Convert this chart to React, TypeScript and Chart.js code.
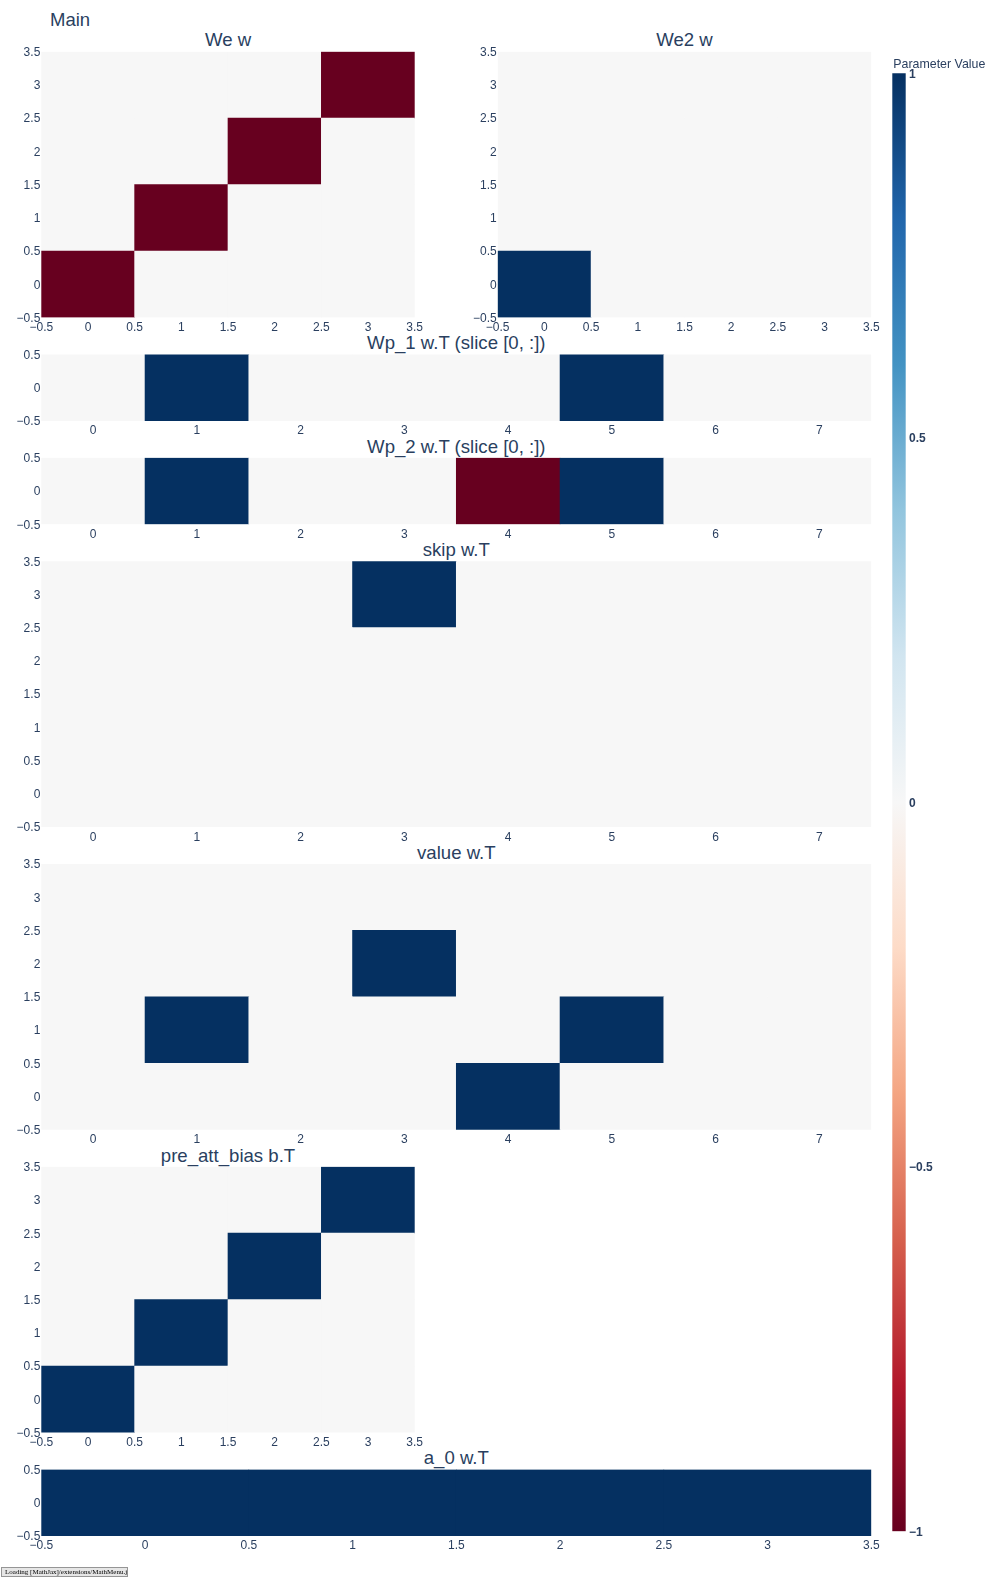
import React, { useEffect, useRef } from "react";
import { Chart, registerables } from "chart.js";
Chart.register(...registerables);

// ---------- colour scale (Plotly RdBu, zmin -1 .. zmax 1) ----------
const ZMIN = -1;
const ZMAX = 1;
const RDBU: number[][] = [
  [103, 0, 31], [178, 24, 43], [214, 96, 77], [244, 165, 130], [253, 219, 199],
  [247, 247, 247], [209, 229, 240], [146, 197, 222], [67, 147, 195], [33, 102, 172], [5, 48, 97],
];

// ---------- data (rows listed from y = 0 upward) ----------
const WE_W = [
  [-1, 0, 0, 0],
  [0, -1, 0, 0],
  [0, 0, -1, 0],
  [0, 0, 0, -1],
];
const WE2_W = [
  [1, 0, 0, 0],
  [0, 0, 0, 0],
  [0, 0, 0, 0],
  [0, 0, 0, 0],
];
const WP1_WT = [[0, 1, 0, 0, 0, 1, 0, 0]];
const WP2_WT = [[0, 1, 0, 0, -1, 1, 0, 0]];
const SKIP_WT = [
  [0, 0, 0, 0, 0, 0, 0, 0],
  [0, 0, 0, 0, 0, 0, 0, 0],
  [0, 0, 0, 0, 0, 0, 0, 0],
  [0, 0, 0, 1, 0, 0, 0, 0],
];
const VALUE_WT = [
  [0, 0, 0, 0, 1, 0, 0, 0],
  [0, 1, 0, 0, 0, 1, 0, 0],
  [0, 0, 0, 1, 0, 0, 0, 0],
  [0, 0, 0, 0, 0, 0, 0, 0],
];
const PRE_ATT_BIAS_BT = [
  [1, 0, 0, 0],
  [0, 1, 0, 0],
  [0, 0, 1, 0],
  [0, 0, 0, 1],
];
const A0_WT = [[1, 1, 1, 1]];

// ---------- tick values ----------
const TICKS_HALF = [-0.5, 0, 0.5, 1, 1.5, 2, 2.5, 3, 3.5];
const TICKS_INT8 = [0, 1, 2, 3, 4, 5, 6, 7];
const TICKS_ROW1 = [-0.5, 0, 0.5];
const CBAR_TICKS = [-1, -0.5, 0, 0.5, 1];

const FONT = '"Liberation Sans", Arial, Helvetica, sans-serif';
const TEXT = "#2a3f5f";

const fmt = (v: number) => (v < 0 ? "\u2212" + String(Math.abs(v)) : String(v));

function colorFor(v: number): string {
  const t = Math.min(1, Math.max(0, (v - ZMIN) / (ZMAX - ZMIN)));
  const p = t * (RDBU.length - 1);
  const i = Math.min(RDBU.length - 2, Math.floor(p));
  const f = p - i;
  const a = RDBU[i];
  const b = RDBU[i + 1];
  const c = a.map((x, k) => Math.round(x + (b[k] - x) * f));
  return `rgb(${c[0]},${c[1]},${c[2]})`;
}

// ---------- layout ----------
const PLOT_L = 41.3;
const HALF_R = 414.7;
const R2_L = 497.7;
const PLOT_R = 871.3;
const ROW_TOP = [51.7, 354.45, 457.85, 561.25, 864.0, 1166.75, 1469.5];
const BIG_H = 265.8;
const SMALL_H = 66.45;

type PanelProps = {
  z: number[][];
  xTicks: number[];
  yTicks: number[];
  left: number;
  top: number;
  width: number;
  height: number;
};

function HeatPanel({ z, xTicks, yTicks, left, top, width, height }: PanelProps) {
  const ref = useRef<HTMLCanvasElement>(null);
  const cL = Math.max(0, Math.floor(left - 50));
  const cT = Math.floor(top - 14);
  const cW = Math.ceil(left + width + 30) - cL;
  const cH = Math.ceil(top + height + 28) - cT;

  useEffect(() => {
    if (!ref.current) return;
    const nR = z.length;
    const nC = z[0].length;
    const padTop = top - cT;
    const yW = left - cL;
    const xH = 24;
    const padBottom = cH - padTop - height - xH;
    const padRight = cW - yW - width;
    const centers = z[0].map((_, c) => c);

    const datasets = z.map((row, r) => ({
      data: row.map((_, c) => ({ x: c, y: [r - 0.5, r + 0.5] })),
      backgroundColor: row.map(colorFor),
      borderWidth: 0,
      xAxisID: "xc",
      yAxisID: "y",
      grouped: false,
      barPercentage: 1,
      categoryPercentage: 1,
    }));

    const tickFont = { family: FONT, size: 12 };
    const chart = new Chart(ref.current, {
      type: "bar",
      data: { datasets } as any,
      options: {
        responsive: false,
        animation: false,
        events: [],
        layout: { padding: { left: 0, top: padTop, right: padRight, bottom: padBottom } },
        plugins: { legend: { display: false }, tooltip: { enabled: false }, title: { display: false } },
        scales: {
          xc: {
            type: "linear",
            axis: "x",
            position: "bottom",
            display: false,
            min: -0.5,
            max: nC - 0.5,
            offset: false,
            afterBuildTicks: (s: any) => {
              s.ticks = centers.map((v) => ({ value: v }));
            },
          },
          x: {
            type: "linear",
            position: "bottom",
            min: -0.5,
            max: nC - 0.5,
            offset: false,
            grid: { display: false, drawTicks: false, offset: false },
            border: { display: false },
            ticks: {
              color: TEXT,
              font: tickFont,
              padding: 3,
              autoSkip: false,
              maxRotation: 0,
              minRotation: 0,
              callback: (v: any) => fmt(Number(v)),
            },
            afterBuildTicks: (s: any) => {
              s.ticks = xTicks.map((v) => ({ value: v }));
            },
            afterFit: (s: any) => {
              s.height = xH;
            },
          },
          y: {
            type: "linear",
            position: "left",
            min: -0.5,
            max: nR - 0.5,
            grid: { display: false, drawTicks: false },
            border: { display: false },
            ticks: {
              color: TEXT,
              font: tickFont,
              padding: 1,
              labelOffset: 1,
              autoSkip: false,
              callback: (v: any) => fmt(Number(v)),
            },
            afterBuildTicks: (s: any) => {
              s.ticks = yTicks.map((v) => ({ value: v }));
            },
            afterFit: (s: any) => {
              s.width = yW;
            },
          },
        },
      } as any,
    });
    return () => chart.destroy();
  }, []);

  return (
    <canvas
      ref={ref}
      width={cW}
      height={cH}
      style={{ position: "absolute", left: cL, top: cT, width: cW, height: cH, display: "block" }}
    />
  );
}

const CB_L = 892.3;
const CB_R = 905.7;
const CB_T = 73.3;
const CB_B = 1531.3;

function ColorBar() {
  const ref = useRef<HTMLCanvasElement>(null);
  const cL = 880;
  const cT = 60;
  const cW = 117;
  const cH = Math.ceil(CB_B + 16) - cT;
  useEffect(() => {
    if (!ref.current) return;
    const chart = new Chart(ref.current, {
      type: "bar",
      data: {
        labels: [""],
        datasets: [
          {
            data: [[ZMIN, ZMAX]],
            backgroundColor: (ctx: any) => {
              const ch = ctx.chart;
              const ys = ch.scales.y;
              if (!ch.chartArea || !ys) return colorFor(0);
              const g = ch.ctx.createLinearGradient(0, ys.getPixelForValue(ZMIN), 0, ys.getPixelForValue(ZMAX));
              RDBU.forEach((c, i) => g.addColorStop(i / (RDBU.length - 1), `rgb(${c[0]},${c[1]},${c[2]})`));
              return g;
            },
            borderWidth: 0,
            barPercentage: 1,
            categoryPercentage: 1,
          },
        ],
      } as any,
      options: {
        responsive: false,
        animation: false,
        events: [],
        layout: { padding: { left: CB_L - cL, top: CB_T - cT, right: 0, bottom: cH - (CB_B - cT) } },
        plugins: { legend: { display: false }, tooltip: { enabled: false } },
        scales: {
          x: { display: false },
          y: {
            type: "linear",
            position: "right",
            min: ZMIN,
            max: ZMAX,
            grid: { display: false, drawTicks: false },
            border: { display: false },
            ticks: {
              color: TEXT,
              font: { family: FONT, size: 12, weight: "bold" },
              padding: 3.3,
              labelOffset: 1,
              autoSkip: false,
              callback: (v: any) => fmt(Number(v)),
            },
            afterBuildTicks: (s: any) => {
              s.ticks = CBAR_TICKS.map((v) => ({ value: v }));
            },
            afterFit: (s: any) => {
              s.width = cW - (CB_R - cL);
            },
          },
        },
      } as any,
    });
    return () => chart.destroy();
  }, []);
  return (
    <canvas
      ref={ref}
      width={cW}
      height={cH}
      style={{ position: "absolute", left: cL, top: cT, width: cW, height: cH, display: "block" }}
    />
  );
}

function Label({ text, x, baseline, size, center }: { text: string; x: number; baseline: number; size: number; center?: boolean }) {
  return (
    <div
      style={{
        position: "absolute",
        left: x,
        top: baseline - 0.8465 * size,
        transform: center ? "translateX(-50%)" : undefined,
        fontFamily: FONT,
        fontSize: size,
        lineHeight: `${size}px`,
        color: TEXT,
        whiteSpace: "nowrap",
      }}
    >
      {text}
    </div>
  );
}

export default function App() {
  const halfW = HALF_R - PLOT_L;
  const half2W = PLOT_R - R2_L;
  const wideW = PLOT_R - PLOT_L;
  const cxHalf = (PLOT_L + HALF_R) / 2;
  const cxHalf2 = (R2_L + PLOT_R) / 2;
  const cxWide = (PLOT_L + PLOT_R) / 2;
  const TS = 18.6;
  const tb = (row: number) => ROW_TOP[row] - 4.5;

  return (
    <div style={{ position: "absolute", left: 0, top: 0, width: 997, height: 1578, background: "#fff", overflow: "hidden" }}>
      <Label text="Main" x={50} baseline={26.7} size={18.5} />

      <Label text="We w" x={cxHalf} baseline={tb(0)} size={TS} center />
      <Label text="We2 w" x={cxHalf2} baseline={tb(0)} size={TS} center />
      <Label text="Wp_1 w.T (slice [0, :])" x={cxWide} baseline={tb(1)} size={TS} center />
      <Label text="Wp_2 w.T (slice [0, :])" x={cxWide} baseline={tb(2)} size={TS} center />
      <Label text="skip w.T" x={cxWide} baseline={tb(3)} size={TS} center />
      <Label text="value w.T" x={cxWide} baseline={tb(4)} size={TS} center />
      <Label text="pre_att_bias b.T" x={cxHalf} baseline={tb(5)} size={TS} center />
      <Label text="a_0 w.T" x={cxWide} baseline={tb(6)} size={TS} center />

      <HeatPanel z={WE_W} xTicks={TICKS_HALF} yTicks={TICKS_HALF} left={PLOT_L} top={ROW_TOP[0]} width={halfW} height={BIG_H} />
      <HeatPanel z={WE2_W} xTicks={TICKS_HALF} yTicks={TICKS_HALF} left={R2_L} top={ROW_TOP[0]} width={half2W} height={BIG_H} />
      <HeatPanel z={WP1_WT} xTicks={TICKS_INT8} yTicks={TICKS_ROW1} left={PLOT_L} top={ROW_TOP[1]} width={wideW} height={SMALL_H} />
      <HeatPanel z={WP2_WT} xTicks={TICKS_INT8} yTicks={TICKS_ROW1} left={PLOT_L} top={ROW_TOP[2]} width={wideW} height={SMALL_H} />
      <HeatPanel z={SKIP_WT} xTicks={TICKS_INT8} yTicks={TICKS_HALF} left={PLOT_L} top={ROW_TOP[3]} width={wideW} height={BIG_H} />
      <HeatPanel z={VALUE_WT} xTicks={TICKS_INT8} yTicks={TICKS_HALF} left={PLOT_L} top={ROW_TOP[4]} width={wideW} height={BIG_H} />
      <HeatPanel z={PRE_ATT_BIAS_BT} xTicks={TICKS_HALF} yTicks={TICKS_HALF} left={PLOT_L} top={ROW_TOP[5]} width={halfW} height={BIG_H} />
      <HeatPanel z={A0_WT} xTicks={TICKS_HALF} yTicks={TICKS_ROW1} left={PLOT_L} top={ROW_TOP[6]} width={wideW} height={SMALL_H} />

      <ColorBar />
      <Label text="Parameter Value" x={893.3} baseline={68.3} size={12.4} />

      <div
        style={{
          position: "absolute",
          left: 1,
          top: 1567,
          width: 127,
          height: 10,
          boxSizing: "border-box",
          background: "#E6E6E6",
          border: "1px solid #959595",
          fontFamily: '"Liberation Serif", "Times New Roman", serif',
          fontSize: 7,
          lineHeight: "8px",
          padding: "0 3px",
          color: "#000",
          whiteSpace: "nowrap",
          overflow: "hidden",
        }}
      >
        Loading [MathJax]/extensions/MathMenu.js
      </div>
    </div>
  );
}
